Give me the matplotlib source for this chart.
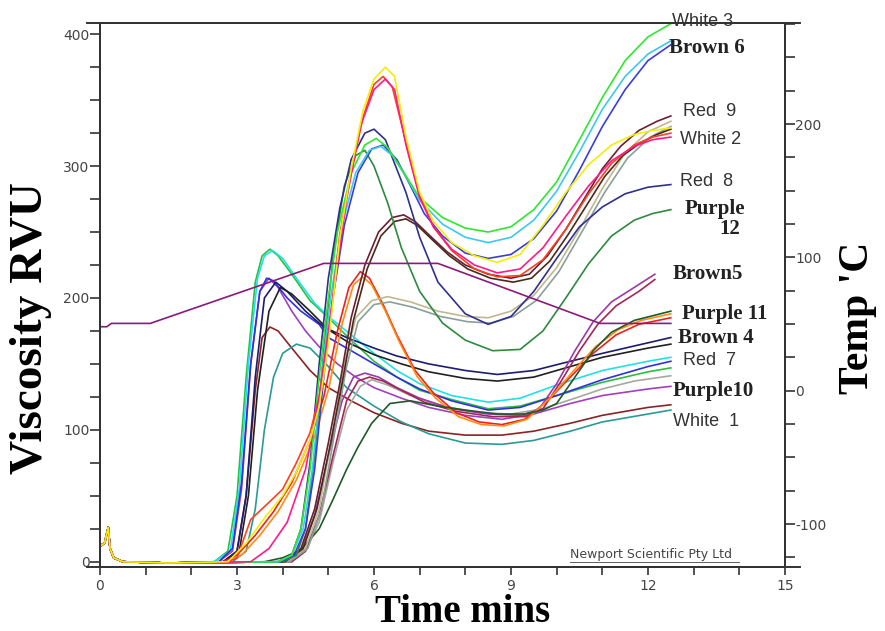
import matplotlib
matplotlib.use("Agg")
import matplotlib.pyplot as plt
from matplotlib.ticker import MultipleLocator

# ---- data (time in min, viscosity in RVU) ----
# shared start: small spike when the paddle starts
t_start = [0.0, 0.1, 0.18, 0.22, 0.3, 0.5, 1.5]
v_start = [12, 14, 26, 10, 3, 0, -1]

# early peakers
t_r7_green = [2.5, 2.8, 3.0, 3.2, 3.4, 3.55, 3.72, 3.9, 4.2, 4.6, 5.0, 5.5, 6.0, 6.5, 7.0, 7.7, 8.5, 9.2, 10.0, 11.0, 12.0, 12.5]
v_r7_green = [0, 8, 50, 140, 212, 232, 237, 232, 218, 198, 185, 168, 152, 140, 130, 123, 116, 118, 126, 136, 144, 147]
t_r7_cyan = [2.5, 2.85, 3.05, 3.25, 3.45, 3.6, 3.78, 4.0, 4.3, 4.7, 5.0, 5.5, 6.0, 6.5, 7.0, 7.7, 8.5, 9.2, 10.0, 11.0, 12.0, 12.5]
v_r7_cyan = [0, 8, 55, 150, 215, 232, 236, 230, 215, 196, 186, 172, 158, 145, 135, 126, 121, 124, 134, 145, 152, 155]
t_r7_blue = [2.6, 2.9, 3.1, 3.3, 3.5, 3.65, 3.8, 4.1, 4.4, 4.8, 5.0, 5.5, 6.0, 6.5, 7.0, 7.7, 8.5, 9.2, 10.0, 11.0, 12.0, 12.5]
v_r7_blue = [0, 10, 60, 150, 205, 215, 213, 200, 190, 180, 170, 160, 150, 140, 131, 122, 115, 117, 126, 138, 148, 152]
t_b4_navy = [2.7, 3.0, 3.2, 3.4, 3.6, 3.85, 4.1, 4.5, 4.9, 5.4, 6.0, 6.5, 7.2, 8.0, 8.7, 9.5, 10.3, 11.0, 12.0, 12.5]
v_b4_navy = [0, 8, 50, 140, 200, 212, 205, 190, 178, 170, 162, 156, 150, 145, 142, 145, 152, 158, 166, 170]
t_b4_black = [2.7, 3.05, 3.25, 3.45, 3.7, 3.95, 4.2, 4.6, 5.0, 5.5, 6.0, 6.6, 7.2, 8.0, 8.7, 9.5, 10.3, 11.0, 12.0, 12.5]
v_b4_black = [0, 8, 50, 130, 190, 208, 203, 190, 176, 165, 157, 150, 144, 139, 137, 140, 148, 155, 162, 165]
t_p10_purple = [2.6, 2.9, 3.1, 3.3, 3.5, 3.7, 3.9, 4.2, 4.5, 4.8, 5.2, 5.6, 6.0, 6.6, 7.2, 8.0, 8.8, 9.5, 10.3, 11.0, 12.0, 12.5]
v_p10_purple = [0, 8, 55, 150, 205, 215, 208, 190, 175, 163, 150, 140, 132, 124, 117, 111, 108, 112, 120, 126, 131, 133]
t_w1_red = [2.7, 3.0, 3.2, 3.4, 3.55, 3.72, 3.9, 4.2, 4.6, 5.0, 5.5, 6.0, 6.6, 7.2, 8.0, 8.8, 9.5, 10.3, 11.0, 12.0, 12.5]
v_w1_red = [0, 8, 50, 130, 170, 178, 175, 162, 145, 132, 122, 113, 105, 99, 96, 96, 99, 105, 111, 117, 119]
t_w1_teal = [2.9, 3.2, 3.4, 3.6, 3.8, 4.0, 4.3, 4.6, 5.0, 5.4, 6.0, 6.6, 7.2, 8.0, 8.8, 9.5, 10.3, 11.0, 12.0, 12.5]
v_w1_teal = [0, 8, 40, 100, 140, 158, 165, 162, 148, 132, 118, 106, 97, 90, 89, 92, 99, 106, 112, 115]

# late, high peakers
t_w3_green = [3.9, 4.2, 4.4, 4.6, 4.8, 5.0, 5.2, 5.5, 5.8, 6.05, 6.3, 6.6, 7.0, 7.5, 8.0, 8.5, 9.0, 9.5, 10.0, 10.5, 11.0, 11.5, 12.0, 12.5]
v_w3_green = [0, 5, 25, 70, 140, 200, 250, 295, 316, 321, 314, 298, 276, 261, 253, 250, 254, 267, 288, 320, 352, 380, 398, 408]
t_b6_cyan = [3.9, 4.2, 4.45, 4.65, 4.85, 5.05, 5.3, 5.6, 5.9, 6.15, 6.4, 6.7, 7.0, 7.5, 8.0, 8.5, 9.0, 9.5, 10.0, 10.5, 11.0, 11.5, 12.0, 12.5]
v_b6_cyan = [0, 5, 25, 70, 140, 200, 255, 295, 312, 315, 308, 292, 274, 256, 246, 242, 246, 259, 281, 311, 343, 368, 385, 395]
t_b6_blue = [3.95, 4.25, 4.5, 4.7, 4.9, 5.1, 5.35, 5.65, 5.95, 6.2, 6.5, 6.8, 7.1, 7.5, 8.0, 8.5, 9.0, 9.5, 10.0, 10.5, 11.0, 11.5, 12.0, 12.5]
v_b6_blue = [0, 5, 25, 70, 140, 200, 255, 295, 313, 316, 305, 285, 264, 247, 234, 230, 233, 245, 266, 297, 330, 358, 380, 392]
t_r8_navy = [3.9, 4.2, 4.4, 4.6, 4.8, 5.0, 5.25, 5.5, 5.8, 6.0, 6.25, 6.45, 6.7, 7.0, 7.4, 8.0, 8.5, 9.0, 9.5, 10.0, 10.5, 11.0, 11.5, 12.0, 12.5]
v_r8_navy = [0, 5, 25, 75, 150, 215, 268, 305, 325, 328, 320, 302, 280, 246, 212, 188, 180, 186, 205, 230, 254, 269, 279, 284, 286]
t_p12_green = [4.0, 4.3, 4.5, 4.7, 4.9, 5.1, 5.35, 5.6, 5.8, 6.0, 6.3, 6.6, 7.0, 7.5, 8.0, 8.6, 9.2, 9.7, 10.2, 10.7, 11.2, 11.7, 12.1, 12.5]
v_p12_green = [0, 5, 25, 80, 160, 230, 285, 308, 312, 300, 272, 238, 205, 181, 168, 160, 161, 175, 200, 226, 247, 259, 264, 267]

# highest peak group
t_w2_yellow = [2.8, 3.2, 3.6, 4.0, 4.3, 4.6, 4.8, 5.0, 5.25, 5.5, 5.76, 6.0, 6.25, 6.45, 6.7, 7.0, 7.3, 7.7, 8.2, 8.7, 9.2, 9.7, 10.2, 10.7, 11.2, 11.7, 12.1, 12.5]
v_w2_yellow = [0, 14, 33, 50, 68, 92, 118, 165, 245, 298, 342, 366, 375, 368, 322, 280, 258, 242, 232, 227, 233, 255, 280, 301, 316, 324, 327, 329]
t_w2_magenta = [3.3, 3.7, 4.1, 4.5, 4.8, 5.1, 5.4, 5.7, 6.0, 6.25, 6.45, 6.7, 7.0, 7.3, 7.7, 8.2, 8.7, 9.2, 9.7, 10.2, 10.7, 11.2, 11.7, 12.1, 12.5]
v_w2_magenta = [0, 10, 30, 70, 125, 200, 275, 330, 358, 366, 358, 316, 276, 254, 237, 225, 219, 222, 238, 262, 285, 304, 315, 320, 322]
t_r9_orange = [2.8, 3.0, 3.3, 3.7, 4.0, 4.3, 4.6, 4.8, 5.0, 5.25, 5.5, 5.76, 6.0, 6.2, 6.4, 6.7, 7.0, 7.3, 7.7, 8.2, 8.7, 9.2, 9.7, 10.2, 10.7, 11.2, 11.7, 12.1, 12.5]
v_r9_orange = [0, 3, 32, 45, 55, 75, 98, 125, 170, 248, 295, 337, 362, 368, 360, 318, 278, 254, 236, 222, 216, 217, 229, 252, 279, 302, 316, 322, 325]

# middle peak group
t_r9_maroon = [4.0, 4.4, 4.7, 5.0, 5.25, 5.5, 5.8, 6.1, 6.4, 6.65, 6.9, 7.2, 7.6, 8.0, 8.5, 9.0, 9.4, 9.8, 10.2, 10.6, 11.0, 11.4, 11.8, 12.2, 12.5]
v_r9_maroon = [0, 10, 40, 90, 135, 185, 225, 250, 261, 263, 258, 248, 235, 225, 218, 215, 218, 232, 252, 275, 298, 315, 327, 334, 338]
t_r9_brown = [4.05, 4.45, 4.75, 5.05, 5.3, 5.55, 5.85, 6.15, 6.45, 6.7, 6.95, 7.25, 7.65, 8.05, 8.55, 9.05, 9.45, 9.85, 10.25, 10.65, 11.05, 11.45, 11.85, 12.2, 12.5]
v_r9_brown = [0, 10, 40, 90, 135, 183, 222, 247, 258, 260, 255, 245, 232, 222, 215, 212, 215, 228, 248, 270, 292, 308, 318, 324, 328]
t_r9_khaki = [4.1, 4.5, 4.8, 5.1, 5.35, 5.6, 5.95, 6.3, 6.8, 7.4, 8.0, 8.5, 9.0, 9.5, 10.0, 10.5, 11.0, 11.5, 12.0, 12.5]
v_r9_khaki = [0, 10, 40, 100, 150, 185, 198, 201, 197, 190, 186, 185, 190, 202, 223, 252, 283, 310, 326, 334]
t_r9_gray = [4.15, 4.55, 4.85, 5.15, 5.4, 5.65, 6.0, 6.35, 6.85, 7.45, 8.05, 8.55, 9.05, 9.55, 10.05, 10.55, 11.05, 11.55, 12.05, 12.5]
v_r9_gray = [0, 10, 40, 100, 148, 182, 195, 197, 193, 186, 182, 181, 186, 198, 220, 250, 280, 306, 322, 330]

# small late peakers
t_b5_purple = [4.1, 4.4, 4.7, 5.0, 5.3, 5.55, 5.8, 6.1, 6.5, 7.0, 7.7, 8.5, 9.2, 9.6, 10.0, 10.4, 10.8, 11.2, 11.7, 12.15]
v_b5_purple = [0, 8, 35, 80, 122, 140, 143, 140, 132, 124, 116, 112, 111, 115, 135, 160, 182, 197, 208, 218]
t_b5_maroon = [4.2, 4.5, 4.8, 5.1, 5.4, 5.65, 5.9, 6.2, 6.6, 7.1, 7.8, 8.6, 9.3, 9.7, 10.1, 10.5, 10.9, 11.3, 11.8, 12.15]
v_b5_maroon = [0, 8, 35, 80, 122, 137, 140, 137, 130, 121, 114, 110, 110, 116, 137, 160, 180, 194, 205, 214]
t_p10_gray = [4.2, 4.5, 4.8, 5.1, 5.4, 5.7, 5.95, 6.3, 6.8, 7.5, 8.3, 9.0, 9.7, 10.4, 11.0, 11.7, 12.5]
v_p10_gray = [0, 8, 30, 75, 115, 133, 138, 134, 126, 118, 113, 112, 116, 124, 131, 137, 141]

# peak ~220 group and slow riser
t_p11_red = [2.7, 3.0, 3.4, 3.8, 4.2, 4.6, 4.9, 5.2, 5.45, 5.7, 5.9, 6.2, 6.5, 6.9, 7.3, 7.8, 8.3, 8.8, 9.3, 9.8, 10.3, 10.8, 11.3, 11.8, 12.5]
v_p11_red = [0, 5, 20, 38, 60, 92, 125, 175, 208, 220, 215, 195, 172, 145, 128, 113, 106, 104, 108, 122, 140, 158, 172, 180, 185]
t_p11_orange = [2.8, 3.1, 3.5, 3.9, 4.3, 4.7, 5.0, 5.3, 5.55, 5.75, 5.95, 6.25, 6.55, 6.95, 7.35, 7.85, 8.35, 8.85, 9.35, 9.85, 10.35, 10.85, 11.35, 11.85, 12.5]
v_p11_orange = [0, 5, 20, 38, 62, 95, 130, 180, 210, 216, 210, 190, 167, 140, 124, 110, 104, 103, 108, 124, 144, 163, 176, 183, 188]
t_p11_dkgreen = [3.6, 4.0, 4.4, 4.8, 5.1, 5.4, 5.65, 5.95, 6.35, 6.8, 7.4, 8.0, 8.7, 9.3, 9.7, 10.0, 10.4, 10.8, 11.2, 11.7, 12.5]
v_p11_dkgreen = [0, 3, 9, 25, 47, 70, 87, 105, 120, 122, 118, 115, 112, 112, 115, 120, 140, 160, 174, 183, 190]

# temperature profile (deg C)
t_temp = [0.0, 0.15, 0.25, 1.1, 4.9, 7.4, 10.95, 12.5]
temp = [48, 48, 50.5, 50.5, 95.5, 95.5, 50.5, 50.5]

curves = [
    ("#8a2424", t_w1_red, v_w1_red),
    ("#2a9a96", t_w1_teal, v_w1_teal),
    ("#a040c0", t_p10_purple, v_p10_purple),
    ("#a8a8a0", t_p10_gray, v_p10_gray),
    ("#28c040", t_r7_green, v_r7_green),
    ("#20e0e8", t_r7_cyan, v_r7_cyan),
    ("#3030e0", t_r7_blue, v_r7_blue),
    ("#1c1c6e", t_b4_navy, v_b4_navy),
    ("#202020", t_b4_black, v_b4_black),
    ("#9a3aa8", t_b5_purple, v_b5_purple),
    ("#a02858", t_b5_maroon, v_b5_maroon),
    ("#ee2020", t_p11_red, v_p11_red),
    ("#ff8c10", t_p11_orange, v_p11_orange),
    ("#1e5a28", t_p11_dkgreen, v_p11_dkgreen),
    ("#c0b890", t_r9_khaki, v_r9_khaki),
    ("#8aa09a", t_r9_gray, v_r9_gray),
    ("#6e1e30", t_r9_maroon, v_r9_maroon),
    ("#4a2a1a", t_r9_brown, v_r9_brown),
    ("#2e8a3e", t_p12_green, v_p12_green),
    ("#303090", t_r8_navy, v_r8_navy),
    ("#3c3cdc", t_b6_blue, v_b6_blue),
    ("#3cc8f0", t_b6_cyan, v_b6_cyan),
    ("#2ee82e", t_w3_green, v_w3_green),
    ("#ff4020", t_r9_orange, v_r9_orange),
    ("#ff1a8c", t_w2_magenta, v_w2_magenta),
    ("#f0f000", t_w2_yellow, v_w2_yellow),
]

# right-hand labels: text, left px, centre px, serif?
labels = ["White 3", "Brown 6", "Red  9", "White 2", "Red  8", "Purple", "12",
          "Brown5", "Purple 11", "Brown 4", "Red  7", "Purple10", "White  1"]
label_px = [(672, 21), (669, 48), (683, 111), (680, 140), (680, 182), (685, 209), (719, 229),
            (673, 274), (682, 314), (678, 338), (683, 361), (673, 391), (673, 422)]
label_serif = [False, True, False, False, False, True, True, True, True, True, False, True, False]

W, H = 885, 631
fig = plt.figure(figsize=(W / 100, H / 100), dpi=100)
ax = fig.add_axes([100 / W, 1 - 567 / H, 685 / W, 544 / H])
ax.set_xlim(0, 15)
ax.set_ylim(-4, 408.5)

for color, t, v in curves:
    ax.plot(t_start + t, v_start + v, color=color, lw=1.2, solid_joinstyle="round")

ax2 = ax.twinx()
ax2.set_ylim(-132.2, 275.8)
ax2.plot(t_temp, temp, color="#8b1a7a", lw=1.2)

spine_c = "#333333"
for a in (ax, ax2):
    for s in a.spines.values():
        s.set_color(spine_c)
        s.set_linewidth(1.4)

# top / bottom frame lines run a little past the two axes
for yy in (0, 1):
    ax.plot([-0.019, 1.022], [yy, yy], transform=ax.transAxes, color=spine_c, lw=1.4, clip_on=False)

ax.xaxis.set_major_locator(MultipleLocator(3))
ax.xaxis.set_minor_locator(MultipleLocator(1))
ax.yaxis.set_major_locator(MultipleLocator(100))
ax.yaxis.set_minor_locator(MultipleLocator(25))
ax2.yaxis.set_major_locator(MultipleLocator(100))
ax2.yaxis.set_minor_locator(MultipleLocator(25))

ax.tick_params(axis="x", which="both", direction="out", length=6, width=1.2, color=spine_c,
               labelsize=10, labelcolor="#444444", pad=3)
ax.tick_params(axis="y", which="both", direction="out", length=7, width=1.2, color=spine_c,
               labelsize=10, labelcolor="#444444", pad=0.5)
ax2.tick_params(axis="y", which="both", direction="out", length=7, width=1.2, color=spine_c,
                labelsize=10, labelcolor="#444444", pad=0.5)
ax.set_xticks([0, 3, 6, 9, 12, 15])
ax.set_xticklabels(["0", "3", "6", "9", "12", "15"])
ax2.set_yticks([-100, 0, 100, 200])
ax2.set_yticklabels(["-100", "0", "100", "200"])

# watermark
ax.text(10.3, 0.5, "Newport Scientific Pty Ltd", fontsize=9, color="#444444",
        family="DejaVu Sans", ha="left", va="bottom")
ax.plot([10.3, 14.0], [-0.5, -0.5], color="#444444", lw=0.6)

# axis titles
fig.text(31 / W, 1 - 328 / H, "Viscosity RVU", rotation=90, ha="center", va="center",
         family="Liberation Serif", weight="bold", fontsize=34)
fig.text(463 / W, 1 - 622 / H, "Time mins", ha="center", va="baseline",
         family="Liberation Serif", weight="bold", fontsize=28)
fig.text(858 / W, 1 - 318 / H, "Temp 'C", rotation=90, ha="center", va="center",
         family="Liberation Serif", weight="bold", fontsize=30)

for txt, (px, py), serif in zip(labels, label_px, label_serif):
    if serif:
        fig.text(px / W, 1 - py / H, txt, ha="left", va="center", family="Liberation Serif",
                 weight="bold", fontsize=15, color="#222222")
    else:
        fig.text(px / W, 1 - py / H, txt, ha="left", va="center", family="Liberation Sans",
                 fontsize=13, color="#333333")

fig.savefig("out.png", dpi=100)
